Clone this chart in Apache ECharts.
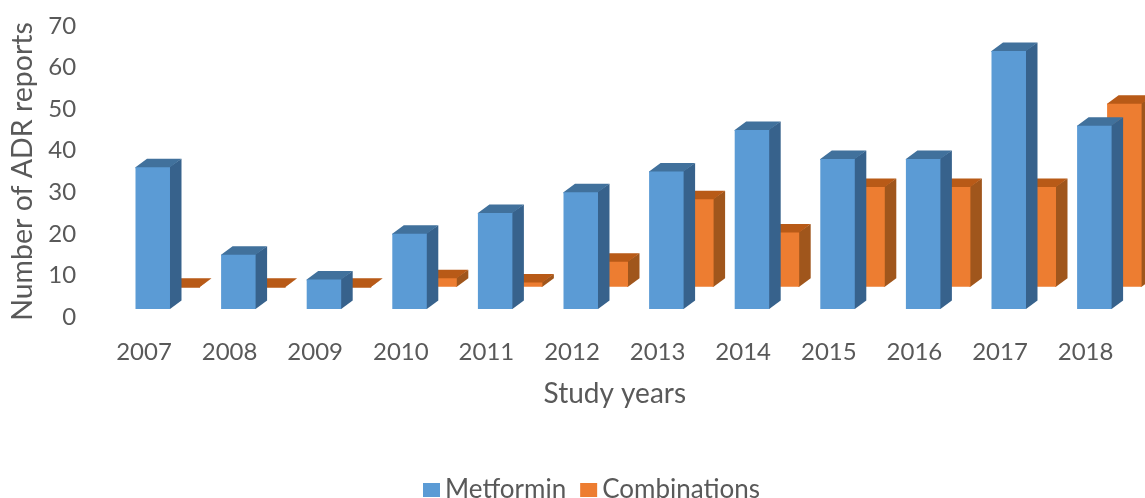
<!DOCTYPE html>
<html>
<head>
<meta charset="utf-8">
<style>html,body{margin:0;padding:0;background:#fff;overflow:hidden}#c{width:1145px;height:498px}</style>
<script src="https://cdn.jsdelivr.net/npm/echarts@6/dist/echarts.min.js"></script>
</head>
<body>
<div id="c"></div>
<script>
var years = ['2007','2008','2009','2010','2011','2012','2013','2014','2015','2016','2017','2018'];
var metformin = [36,15,9,20,25,30,35,45,38,38,64,46];
var combinations = [0,0,0,2,1,6,21,13,24,24,24,44];
var FONT = 'Lato, "Open Sans", sans-serif';
var GREY = '#595959';

function bar3d(opts){
  return function(params, api){
    var i = api.value(0), v = api.value(1);
    var band = api.size([1,0])[0];
    var cx = api.coord([i,0])[0];
    var x0 = cx + opts.offset*band, w = 0.403*band;
    var yB = api.coord([0,opts.baseLift])[1];
    var yT = api.coord([0,v+opts.topLift])[1];
    var dx = 11.5, dy = 8.5;
    return {type:'group', children:[
      {type:'polygon', shape:{points:[[x0+w-1,yT],[x0+w+dx,yT-dy],[x0+w+dx,yB-dy],[x0+w,yB],[x0+w-1,yB]]}, style:{fill:opts.side}},
      {type:'polygon', shape:{points:[[x0,yT+1],[x0,yT],[x0+dx,yT-dy],[x0+w+dx,yT-dy],[x0+w,yT],[x0+w,yT+1]]}, style:{fill:opts.top}},
      {type:'rect', shape:{x:x0,y:yT,width:w,height:yB-yT}, style:{fill:opts.front}}
    ]};
  };
}

var chart = echarts.init(document.getElementById('c'), null, {renderer:'canvas'});
chart.setOption({
  animation:false,
  backgroundColor:'#fff',
  grid:{left:101.2, top:26, width:1027.2, height:291, containLabel:false},
  legend:{
    left:423, top:477, padding:0, icon:'rect', itemWidth:17, itemHeight:14, itemGap:14,
    textStyle:{color:GREY, fontFamily:FONT, fontSize:26},
    data:['Metformin','Combinations']
  },
  xAxis:{
    type:'category', data:years,
    axisLine:{show:false}, axisTick:{show:false}, splitLine:{show:false},
    axisLabel:{color:GREY, fontFamily:FONT, fontSize:24, margin:23},
    name:'Study years', nameLocation:'middle', nameGap:63,
    nameTextStyle:{color:GREY, fontFamily:FONT, fontSize:28}
  },
  yAxis:{
    type:'value', min:0, max:70, interval:10,
    axisLine:{show:false}, axisTick:{show:false}, splitLine:{show:false},
    axisLabel:{color:GREY, fontFamily:FONT, fontSize:24, margin:25},
    name:'Number of ADR reports', nameLocation:'middle', nameGap:61,
    nameTextStyle:{color:GREY, fontFamily:FONT, fontSize:28.5}
  },
  series:[
    {name:'Combinations', type:'custom', z:2, itemStyle:{color:'#ED7D31'},
     data:years.map(function(y,i){return [i,combinations[i]];}),
     encode:{x:0,y:1},
     renderItem:bar3d({offset:21.5/85.6, baseLift:7.3, topLift:7.3, front:'#ED7D31', top:'#B85A17', side:'#A0561C'})},
    {name:'Metformin', type:'custom', z:3, itemStyle:{color:'#5B9BD5'},
     data:years.map(function(y,i){return [i,metformin[i]];}),
     encode:{x:0,y:1},
     renderItem:bar3d({offset:-8.5/85.6, baseLift:1.9, topLift:0, front:'#5B9BD5', top:'#41719C', side:'#37628C'})}
  ]
});
</script>
</body>
</html>
